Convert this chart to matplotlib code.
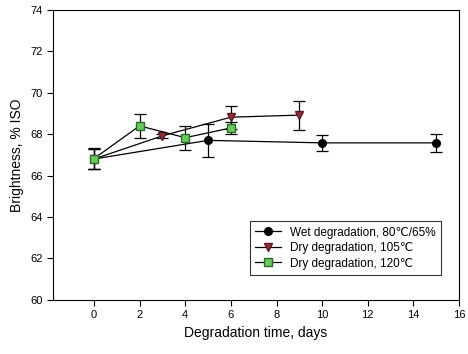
import matplotlib
matplotlib.use("Agg")
import matplotlib.pyplot as plt
from matplotlib.lines import Line2D

plt.rcParams['font.family'] = ['Liberation Sans', 'DejaVu Sans']

wet_x = [0, 5, 10, 15]
wet_y = [66.8, 67.7, 67.58, 67.58]
wet_err = [0.5, 0.8, 0.4, 0.45]

d105_x = [0, 3, 6, 9]
d105_y = [66.8, 67.92, 68.82, 68.92]
d105_err = [0.5, 0.1, 0.55, 0.7]

d120_x = [0, 2, 4, 6]
d120_y = [66.82, 68.4, 67.83, 68.3]
d120_err = [0.5, 0.58, 0.58, 0.3]

labels = ['Wet degradation, 80\u2103/65%', 'Dry degradation, 105\u2103', 'Dry degradation, 120\u2103']

fig = plt.figure(figsize=(4.68, 3.54), dpi=100)
ax = fig.add_axes([0.113, 0.153, 0.868, 0.819])

common = dict(color='black', lw=0.9, elinewidth=0.9, capsize=4, capthick=0.9, ms=5.5)
styles = [dict(marker='o', mfc='black', mec='black'),
          dict(marker='v', mfc='#a0283a', mec='#5a1a20'),
          dict(marker='s', mfc='#66cc55', mec='#2a6a2a')]
ax.errorbar(wet_x, wet_y, yerr=wet_err, **styles[0], **common)
ax.errorbar(d105_x, d105_y, yerr=d105_err, **styles[1], **common)
ax.errorbar(d120_x, d120_y, yerr=d120_err, **styles[2], **common)

handles = [Line2D([], [], color='black', lw=0.9, ms=5.5, **s) for s in styles]

ax.set_xlim(-1.8, 16)
ax.set_ylim(60, 74)
ax.set_xticks(range(0, 17, 2))
ax.set_yticks(range(60, 75, 2))
ax.tick_params(direction='out', labelsize=8, length=4)
ax.set_xlabel('Degradation time, days', fontsize=10)
ax.set_ylabel('Brightness, % ISO', fontsize=10)

leg = ax.legend(handles, labels, loc='lower right', bbox_to_anchor=(0.956, 0.086), borderaxespad=0,
                fontsize=8.5, frameon=True, fancybox=False, edgecolor='black', handlelength=2.2,
                borderpad=0.45, labelspacing=0.3)
leg.get_frame().set_linewidth(0.8)

fig.savefig('out.png', dpi=100)
